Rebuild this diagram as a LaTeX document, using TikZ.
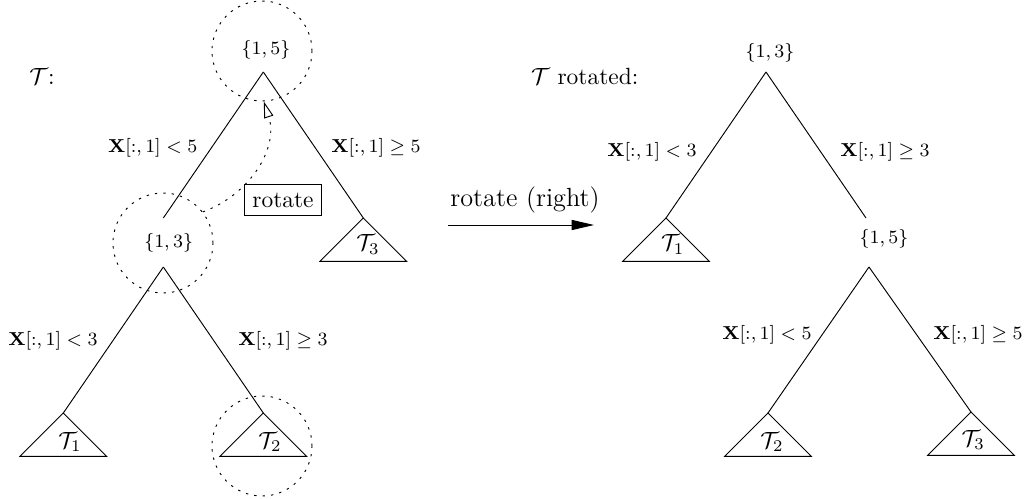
\documentclass[tikz,border=0pt]{standalone}
\usepackage{amsmath}
\usepackage{amssymb}
\usetikzlibrary{arrows.meta}

\begin{document}
\begin{tikzpicture}[
  lbl/.style={font=\footnotesize},
  dots/.style={dash pattern=on 1pt off 2.6pt},
  ring/.style={circle, draw, dots, minimum size=1.5cm, inner sep=0pt}]

\useasboundingbox (0,0) rectangle (15.375,7.47);

% Tree T
\node (tl) at (0.63,6.33) {$\mathcal{T}$:};

\node[ring] (c15) at (3.93,6.705) {};
\node[ring] (c13) at (2.445,3.825) {};
\node[ring] (c2) at (3.93,0.78) {};

\node[lbl] (l15) at (3.99,6.72) {$\{1,5\}$};
\node[lbl] (l13) at (2.53,3.83) {$\{1,3\}$};

\coordinate (a15) at (3.95,6.39);
\coordinate (n13) at (2.45,4.2);
\coordinate (a13) at (2.45,3.465);
\coordinate (t1) at (0.95,1.275);
\coordinate (t2) at (3.95,1.275);
\coordinate (t3) at (5.45,4.2);

\draw (a15) -- (n13);
\draw (a15) -- (t3);
\draw (a13) -- (t1);
\draw (a13) -- (t2);

% Subtrees
\draw (t1) -- ++(-0.65,-0.65) -- ++(1.3,0) -- cycle;
\draw (t2) -- ++(-0.65,-0.65) -- ++(1.3,0) -- cycle;
\draw (t3) -- ++(-0.65,-0.65) -- ++(1.3,0) -- cycle;
\node (s1) at (1.05,0.84) {$\mathcal{T}_1$};
\node (s2) at (4.05,0.84) {$\mathcal{T}_2$};
\node (s3) at (5.52,3.8) {$\mathcal{T}_3$};

% Split labels
\node[lbl] (e1) at (2.29,5.26) {$\mathbf{X}[:,1] < 5$};
\node[lbl] (e2) at (5.64,5.26) {$\mathbf{X}[:,1] \geq 5$};
\node[lbl] (e3) at (0.795,2.355) {$\mathbf{X}[:,1] < 3$};
\node[lbl] (e4) at (4.245,2.355) {$\mathbf{X}[:,1] \geq 3$};

% Rotation hint
\draw[dots, -{Triangle[open,length=7pt,width=4pt]}]
  (c13.38) to[out=20, in=-72] (c15.-88);
\node[draw, fill=white] (rot) at (4.245,4.47) {rotate};

% Arrow
\draw[-{Triangle[length=9.5pt,width=4.3pt]}] (6.72,4.095) coordinate (ra) -- (8.91,4.095) coordinate (rb);
\node (rl) at (7.875,4.47) {\fontsize{11.2}{13}\selectfont rotate (right)};

% Tree T rotated
\node (tr) at (8.77,6.33) {$\mathcal{T}$ rotated:};

\node[lbl] (r13) at (11.55,6.675) {$\{1,3\}$};
\node[lbl] (r15) at (13.26,3.885) {$\{1,5\}$};

\coordinate (b13) at (11.49,6.39);
\coordinate (u1) at (9.99,4.2);
\coordinate (m15) at (12.99,4.2);
\coordinate (b15) at (13.035,3.465);
\coordinate (u2) at (11.52,1.275);
\coordinate (u3) at (14.565,1.29);

\draw (b13) -- (u1);
\draw (b13) -- (m15);
\draw (b15) -- (u2);
\draw (b15) -- (u3);

\draw (u1) -- ++(-0.65,-0.65) -- ++(1.3,0) -- cycle;
\draw (u2) -- ++(-0.65,-0.65) -- ++(1.3,0) -- cycle;
\draw (u3) -- ++(-0.65,-0.65) -- ++(1.3,0) -- cycle;
\node (v1) at (10.09,3.8) {$\mathcal{T}_1$};
\node (v2) at (11.58,0.84) {$\mathcal{T}_2$};
\node (v3) at (14.6,0.87) {$\mathcal{T}_3$};

\node[lbl] (f1) at (9.78,5.19) {$\mathbf{X}[:,1] < 3$};
\node[lbl] (f2) at (13.275,5.19) {$\mathbf{X}[:,1] \geq 3$};
\node[lbl] (f3) at (11.505,2.445) {$\mathbf{X}[:,1] < 5$};
\node[lbl] (f4) at (14.67,2.445) {$\mathbf{X}[:,1] \geq 5$};

\end{tikzpicture}
\end{document}
